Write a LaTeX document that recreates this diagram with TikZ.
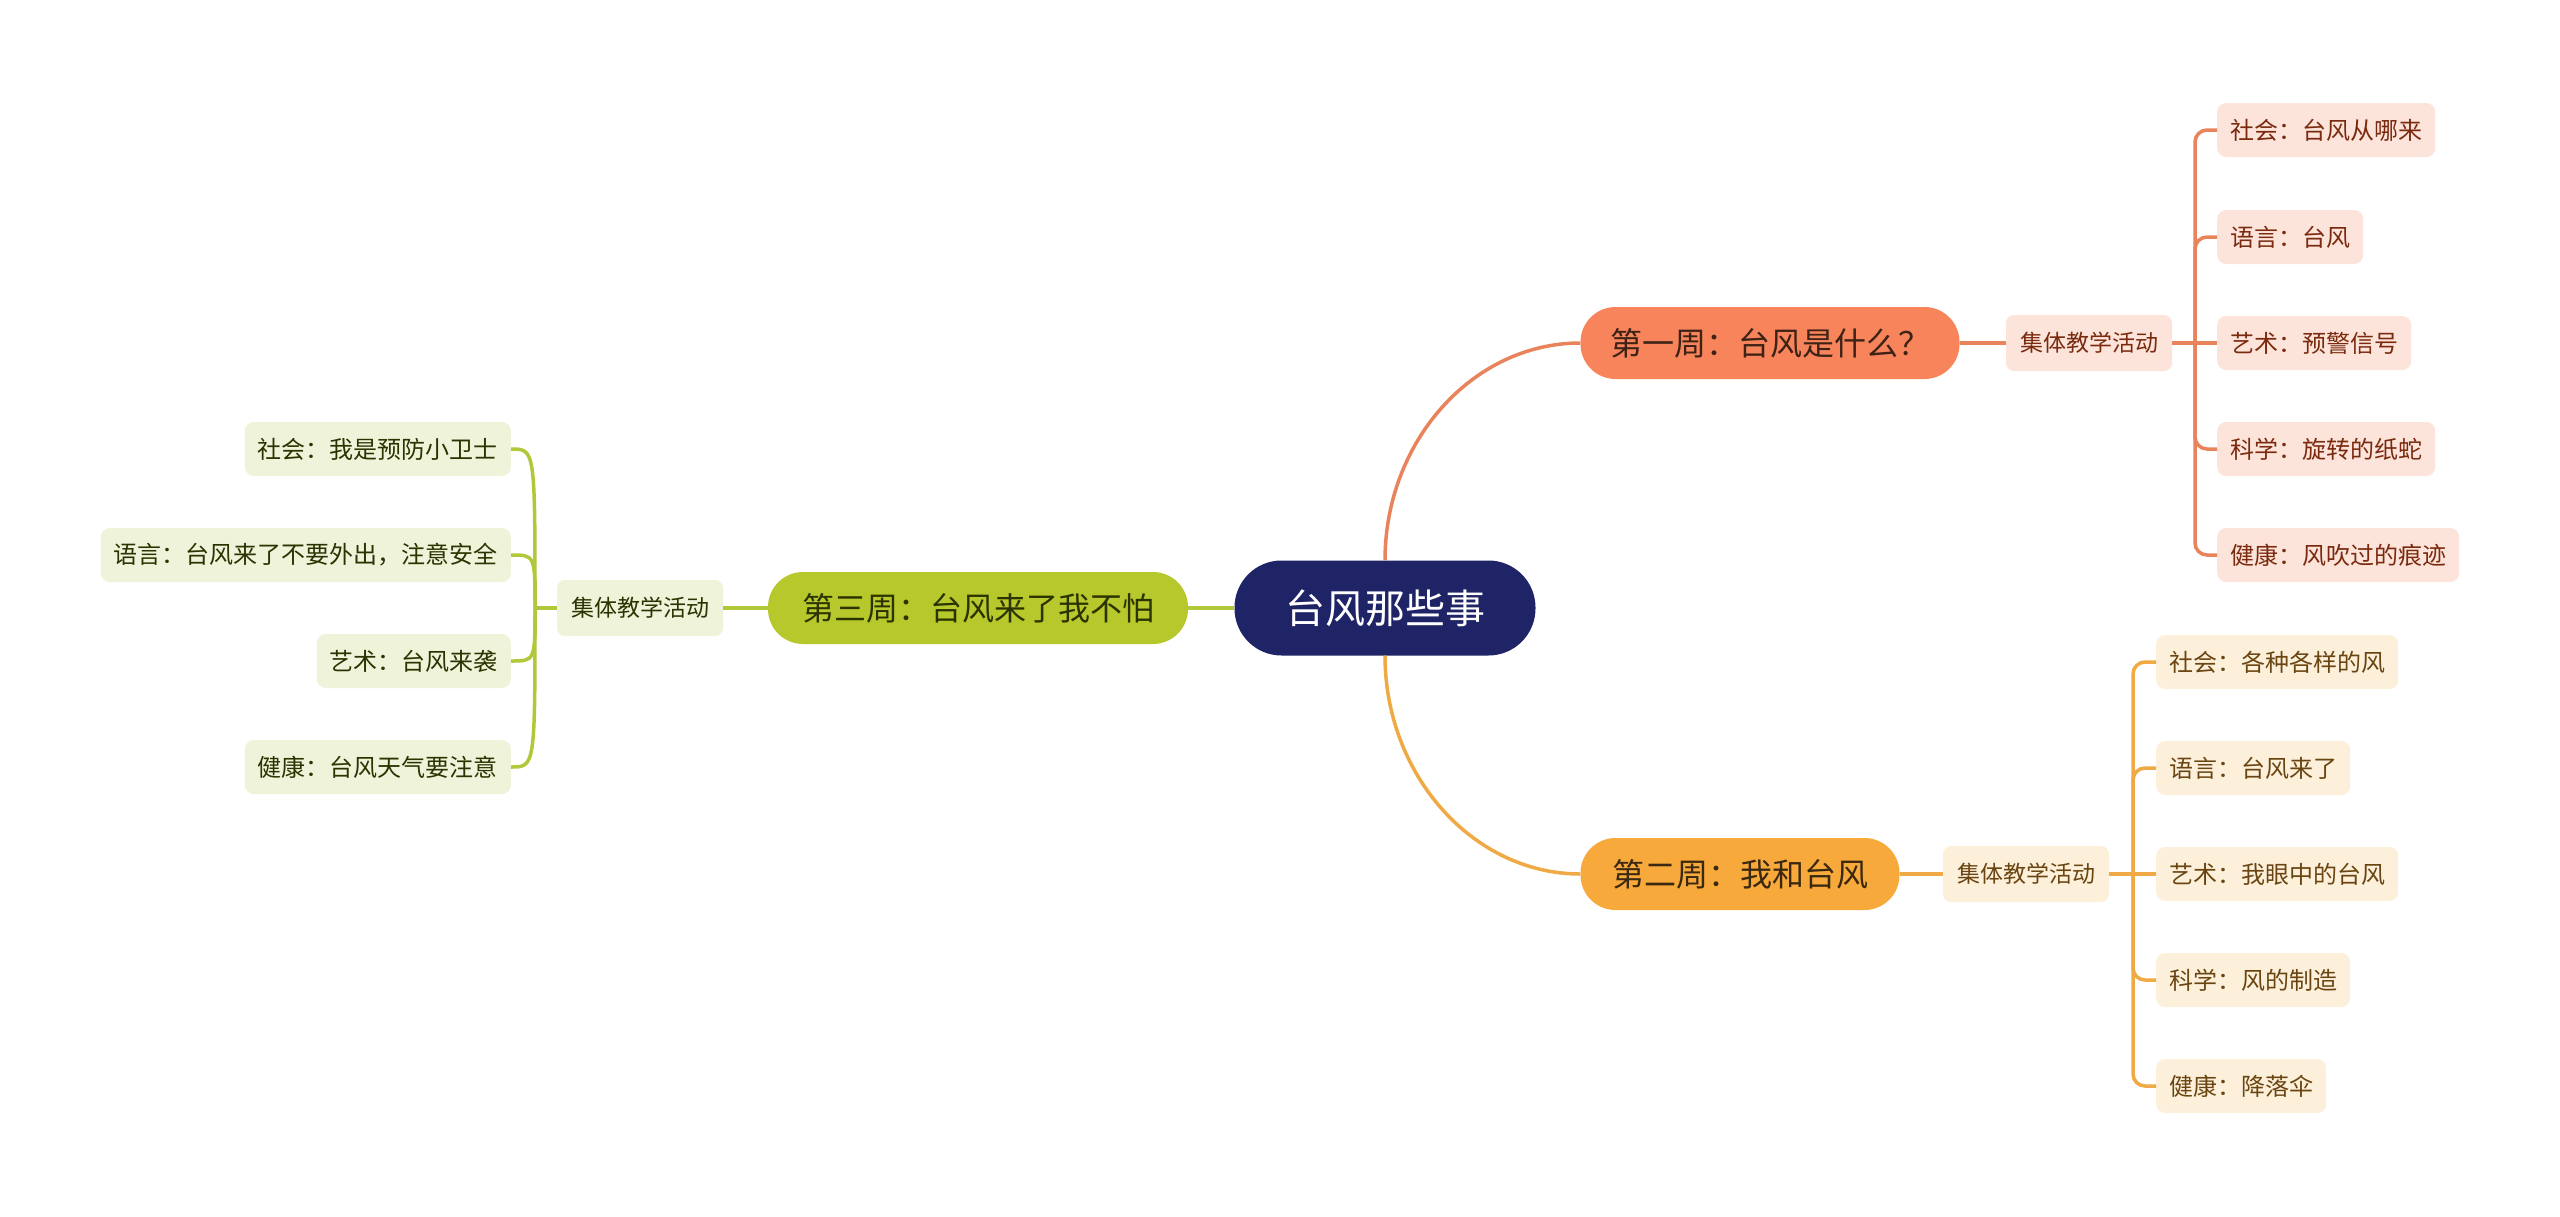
\documentclass[tikz,border=0pt]{standalone}
\usepackage{fontspec}
\setmainfont{Noto Sans CJK SC}
\usetikzlibrary{positioning}

\definecolor{navy}{HTML}{1F2466}
\definecolor{coral}{HTML}{F7845A}
\definecolor{coralline}{HTML}{E8835C}
\definecolor{corallight}{HTML}{FDE4DA}
\definecolor{coraltext}{HTML}{7A2A0E}
\definecolor{coraldark}{HTML}{3D2216}
\definecolor{amber}{HTML}{F8A93B}
\definecolor{amberline}{HTML}{F0AA45}
\definecolor{amberlight}{HTML}{FDF0DB}
\definecolor{ambertext}{HTML}{6A4511}
\definecolor{amberdark}{HTML}{3A2810}
\definecolor{lime}{HTML}{B6C82B}
\definecolor{limeline}{HTML}{B3C73A}
\definecolor{limelight}{HTML}{EEF3DA}
\definecolor{limetext}{HTML}{2B3300}

\begin{document}
\begin{tikzpicture}[x=1pt, y=-1pt,
  rootbox/.style={fill=navy, text=white, rounded corners=47pt, minimum width=301pt, minimum height=95pt, font=\fontsize{40pt}{48pt}\selectfont},
  weekbox/.style={rounded corners=35pt, minimum height=72pt, inner xsep=0pt, font=\fontsize{32pt}{38pt}\selectfont},
  groupbox/.style={rounded corners=8pt, minimum width=166pt, minimum height=56pt, inner xsep=0pt, font=\fontsize{23pt}{28pt}\selectfont},
  leafbox/.style={rounded corners=9pt, minimum height=54pt, inner xsep=13pt, font=\fontsize{24pt}{29pt}\selectfont},
  link/.style={line width=3.5pt}
]

% Canvas
\useasboundingbox (0,0) rectangle (2560,1216);
\fill[white] (0,0) rectangle (2560,1216);

% Root and weeks
\node[rootbox] (root) at (1385,608) {台风那些事};
\node[weekbox, fill=coral, text=coraldark, minimum width=379pt] (w1) at (1770,343) {第一周：台风是什么？};
\node[weekbox, fill=amber, text=amberdark, minimum width=319pt] (w2) at (1740,874) {第二周：我和台风};
\node[weekbox, fill=lime, text=limetext, minimum width=420pt] (w3) at (978,608) {第三周：台风来了我不怕};

% Group boxes
\node[groupbox, fill=corallight, text=coraltext] (g1) at (2089,343) {集体教学活动};
\node[groupbox, fill=amberlight, text=ambertext] (g2) at (2026,874) {集体教学活动};
\node[groupbox, fill=limelight, text=limetext] (g3) at (640,608) {集体教学活动};

% Week one activities
\foreach \y/\t [count=\i] in {130/社会：台风从哪来, 237/语言：台风, 343/艺术：预警信号, 449/科学：旋转的纸蛇, 555/健康：风吹过的痕迹}
  \node[leafbox, fill=corallight, text=coraltext, anchor=west] (a\i) at (2217,\y) {\t};

% Week two activities
\foreach \y/\t [count=\i] in {662/社会：各种各样的风, 768/语言：台风来了, 874/艺术：我眼中的台风, 980/科学：风的制造, 1086/健康：降落伞}
  \node[leafbox, fill=amberlight, text=ambertext, anchor=west] (b\i) at (2156,\y) {\t};

% Week three activities
\foreach \y/\t [count=\i] in {449/社会：我是预防小卫士, 555/语言：台风来了不要外出，注意安全, 661/艺术：台风来袭, 767/健康：台风天气要注意}
  \node[leafbox, fill=limelight, text=limetext, anchor=east] (c\i) at (511,\y) {\t};

% Root branches
\draw[link, coralline] (root.north) .. controls (1385,441) and (1473,343) .. (w1.west);
\draw[link, amberline] (root.south) .. controls (1385,775) and (1473,874) .. (w2.west);
\draw[link, limeline] (root.west) -- (w3.east);

% Week one links
\coordinate (s1) at (2195,343);
\draw[link, coralline] (w1.east) -- (g1.west);
\draw[link, coralline] (g1.east) -- (a3.west);
\foreach \i in {1,2,4,5}
  \draw[link, coralline, rounded corners=12pt] (s1) |- (a\i.west);

% Week two links
\coordinate (s2) at (2133,874);
\draw[link, amberline] (w2.east) -- (g2.west);
\draw[link, amberline] (g2.east) -- (b3.west);
\foreach \i in {1,2,4,5}
  \draw[link, amberline, rounded corners=12pt] (s2) |- (b\i.west);

% Week three links
\coordinate (s3) at (535,608);
\draw[link, limeline] (w3.west) -- (g3.east);
\draw[link, limeline] (g3.west) -- (s3);
\foreach \i in {1,...,4}
  \draw[link, limeline] (s3) .. controls (s3 |- c\i.east) .. (c\i.east);

\end{tikzpicture}
\end{document}
